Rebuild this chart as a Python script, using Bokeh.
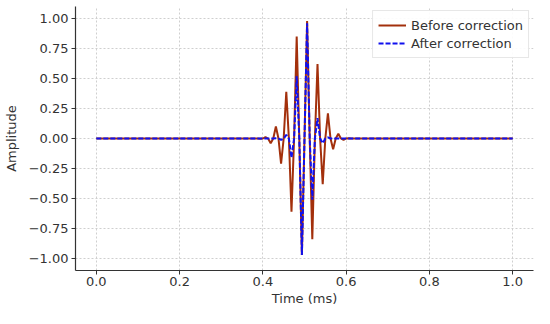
from bokeh.plotting import figure
from bokeh.models import Range1d, FixedTicker, CustomJSTickFormatter, Legend, LegendItem
from bokeh.embed import file_html
from bokeh.resources import INLINE

# Time (ms): zero crossings and extrema
time_ms = [0.0, 0.3875, 0.39375, 0.4, 0.40625, 0.4125, 0.41875, 0.425, 0.43125, 0.4375,
           0.44375, 0.45, 0.45625, 0.4625, 0.46875, 0.475, 0.48125, 0.4875, 0.49375, 0.5,
           0.50625, 0.5125, 0.51875, 0.525, 0.53125, 0.5375, 0.54375, 0.55, 0.55625, 0.5625,
           0.56875, 0.575, 0.58125, 0.5875, 0.59375, 0.6, 0.60625, 0.6125, 1.0]

before_correction = [0.0, 0.0, -0.003, 0.0, 0.012, 0.0, -0.04, 0.0, 0.10, 0.0,
                     -0.21, 0.0, 0.39, 0.0, -0.61, 0.0, 0.85, 0.0, -0.97, 0.0,
                     0.98, 0.0, -0.84, 0.0, 0.62, 0.0, -0.38, 0.0, 0.21, 0.0,
                     -0.09, 0.0, 0.04, 0.0, -0.012, 0.0, 0.003, 0.0, 0.0]

after_correction = [0.0, 0.0, 0.0, 0.0, 0.0, 0.0, 0.0, 0.0, 0.003, 0.0,
                    -0.012, 0.0, 0.03, 0.0, -0.16, 0.0, 0.52, 0.0, -0.97, 0.0,
                    0.96, 0.0, -0.51, 0.0, 0.17, 0.0, -0.04, 0.0, 0.01, 0.0,
                    0.0, 0.0, 0.0, 0.0, 0.0, 0.0, 0.0, 0.0, 0.0]

x_ticks = [0.0, 0.2, 0.4, 0.6, 0.8, 1.0]
y_ticks = [-1.0, -0.75, -0.5, -0.25, 0.0, 0.25, 0.5, 0.75, 1.0]

FONT = "DejaVu Sans"
TXT = "#333333"

p = figure(width=534, height=308, output_backend="svg", toolbar_location=None,
           x_range=Range1d(-0.05, 1.05), y_range=Range1d(-1.1, 1.1),
           min_border_left=2, min_border_right=1, min_border_top=6, min_border_bottom=1)
p.outline_line_color = None
p.background_fill_color = "white"

for ax in (p.xaxis[0], p.yaxis[0]):
    ax.axis_line_color = TXT
    ax.axis_line_width = 1.2
    ax.major_tick_line_color = TXT
    ax.major_tick_out = 4
    ax.major_tick_in = 0
    ax.minor_tick_line_color = None
    ax.major_label_text_font = FONT
    ax.major_label_text_font_size = "13px"
    ax.major_label_text_color = TXT
    ax.axis_label_text_font = FONT
    ax.axis_label_text_font_size = "13px"
    ax.axis_label_text_font_style = "normal"
    ax.axis_label_text_color = TXT

p.xaxis.ticker = FixedTicker(ticks=x_ticks)
p.yaxis.ticker = FixedTicker(ticks=y_ticks)
p.xaxis.formatter = CustomJSTickFormatter(code="return tick.toFixed(1).replace('-', '\u2212');")
p.yaxis.formatter = CustomJSTickFormatter(code="return tick.toFixed(2).replace('-', '\u2212');")
p.xaxis.axis_label = "Time (ms)"
p.yaxis.axis_label = "Amplitude"
p.xaxis.major_label_standoff = 2
p.yaxis.major_label_standoff = 3
p.xaxis.axis_label_standoff = 2
p.yaxis.axis_label_standoff = 7

p.grid.grid_line_color = "#cfcfcf"
p.grid.grid_line_dash = "2 2"
p.grid.grid_line_width = 1

r1 = p.line(time_ms, before_correction, line_color="#a3300c", line_width=2)
r2 = p.line(time_ms, after_correction, line_color="#1010ee", line_width=2, line_dash="5 2")

legend = Legend(items=[LegendItem(label="Before correction", renderers=[r1]),
                       LegendItem(label="After correction", renderers=[r2])],
                location="top_right")
legend.margin = 4
legend.padding = 5
legend.spacing = 0
legend.label_height = 18
legend.glyph_height = 18
legend.glyph_width = 28
legend.label_text_font = FONT
legend.label_text_font_size = "13px"
legend.label_text_color = TXT
legend.border_line_color = "#d0d0d0"
legend.background_fill_alpha = 0.9
p.add_layout(legend)

open("out.html", "w").write(file_html(p, INLINE))
